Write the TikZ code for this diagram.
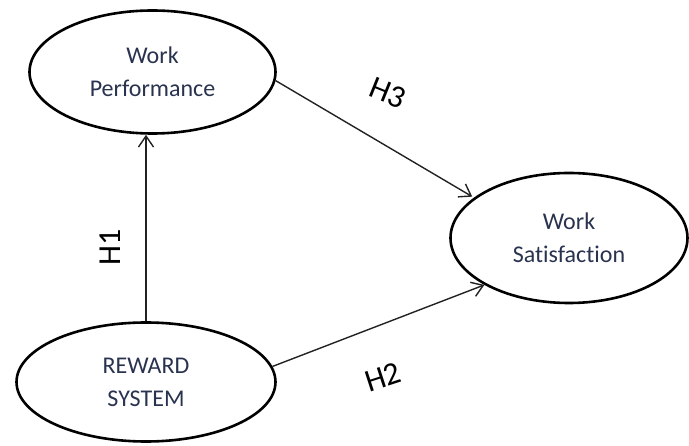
\documentclass[tikz,border=0pt]{standalone}
\usepackage{fontspec}
\setmainfont{Carlito}[Ligatures=NoCommon]
\usetikzlibrary{arrows.meta,shapes.geometric}
\definecolor{nametext}{HTML}{29334F}
\definecolor{linkgray}{HTML}{222222}
\begin{document}
\begin{tikzpicture}[x=1pt,y=-1pt,
  construct/.style={ellipse, draw=black, line width=2.6pt, inner sep=0pt,
    align=center, text=nametext, font=\fontsize{24}{33}\selectfont},
  link/.style={draw=linkgray, line width=1.4pt,
    -{Straight Barb[length=11pt,width=15pt,line width=1.4pt]}},
  hyp/.style={font=\fontsize{32}{36}\selectfont, text=black, inner sep=0pt}]
  \useasboundingbox (0,0) rectangle (689,446);

  % constructs
  \node[construct, minimum width=246pt, minimum height=123pt]
    (wp) at (152.5,72) {Work\\Performance};
  \node[construct, minimum width=237pt, minimum height=130pt]
    (ws) at (569,238) {Work\\Satisfaction};
  \node[construct, minimum width=259pt, minimum height=119pt]
    (rs) at (146,382) {REWARD\\SYSTEM};

  % hypothesised paths
  \draw[link] (rs.north -| 146,0) -- (wp.south -| 146,0);
  \draw[link, shorten >=2pt] (wp.-4) -- (ws.157);
  \draw[link] (rs.7.5) -- (ws.209.6);

  % path labels
  \node[hyp, rotate=90]  (h1) at (110,247) {H1};
  \node[hyp, rotate=-22] (h3) at (388,93)  {H3};
  \node[hyp, rotate=18]  (h2) at (383,377) {H2};
\end{tikzpicture}
\end{document}
